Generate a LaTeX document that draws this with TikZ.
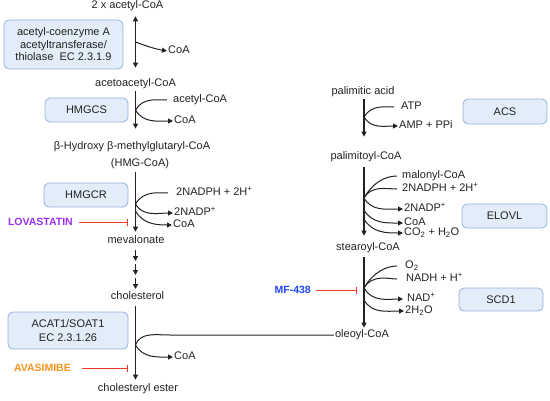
\documentclass[tikz,border=0pt]{standalone}
\usepackage{fontspec}
\setmainfont{Liberation Sans}
\usetikzlibrary{arrows.meta}
\definecolor{boxfill}{HTML}{E3EDF9}
\definecolor{boxline}{HTML}{93B2DE}
\definecolor{inhib}{HTML}{EE3B24}
\definecolor{lova}{HTML}{9A2EF0}
\definecolor{avas}{HTML}{F7931E}
\definecolor{mfblue}{HTML}{1F45F5}
\definecolor{ink}{HTML}{222222}
\begin{document}
\begin{tikzpicture}[x=1pt,y=-1pt,>={Triangle[length=5pt,width=5pt]},
  cpd/.style={font=\fontsize{11}{12.5}\selectfont, text=ink, inner sep=1pt, text height=8pt, text depth=2.3pt},
  enz/.style={font=\fontsize{11}{12.5}\selectfont, text=ink, draw=boxline, fill=boxfill, rounded corners=5pt, line width=0.8pt, inner sep=1pt},
  drug/.style={font=\bfseries\fontsize{10.5}{12}\selectfont, inner sep=1pt},
  rxn/.style={->, draw=ink, line width=1.2pt},
  side/.style={draw=ink, line width=1pt},
  inh/.style={draw=inhib, line width=1pt, -{Bar[width=7pt]}}]
\useasboundingbox (0,0) rectangle (550,400);
\coordinate (axL) at (135.5,0);
\coordinate (axR) at (364,0);
\node[enz, minimum width=119pt, minimum height=49pt, align=center] (thl) at (63.5,44.5) {acetyl-coenzyme A\\acetyltransferase/\\thiolase~ EC 2.3.1.9};
\node[enz, minimum width=83pt, minimum height=24pt] (hmgcs) at (86.5,110) {HMGCS};
\node[enz, minimum width=84pt, minimum height=24pt] (hmgcr) at (86,195) {HMGCR};
\node[enz, minimum width=120pt, minimum height=37pt, align=center] (acat) at (68,330.5) {ACAT1/SOAT1\\[1.5pt]EC 2.3.1.26};
\node[enz, minimum width=84pt, minimum height=25pt] (acs) at (505,111.5) {ACS};
\node[enz, minimum width=85pt, minimum height=24pt] (elovl) at (504.5,216) {ELOVL};
\node[enz, minimum width=84pt, minimum height=23pt] (scd) at (501,299.5) {SCD1};
\node[cpd] (c0) at (127.5,6) {2 x acetyl-CoA};
\node[cpd] (c1) at (135.5,84) {acetoacetyl-CoA};
\node[cpd] (c2) at (132,147) {β-Hydroxy β-methylglutaryl-CoA};
\node[cpd] (c2b) at (140,164) {(HMG-CoA)};
\node[cpd] (c3) at (136,241) {mevalonate};
\node[cpd] (c4) at (137.5,297) {cholesterol};
\node[cpd] (c5) at (138,389) {cholesteryl ester};
\node[cpd] (f0) at (363,92) {palimitic acid};
\node[cpd] (f1) at (366,157) {palimitoyl-CoA};
\node[cpd] (f2) at (368,248) {stearoyl-CoA};
\node[cpd] (f3) at (362,335) {oleoyl-CoA};
\draw[rxn, <->, shorten <=4pt, shorten >=10pt] (c0.south -| axL) -- (c1.north -| axL);
\draw[rxn, shorten <=1pt, shorten >=12pt] (c1.south -| axL) -- (c2.north -| axL);
\draw[rxn, shorten <=2pt, shorten >=3pt] (c2b.south -| axL) -- (c3.north -| axL);
\foreach \i/\y in {1/250,2/264,3/278} {
  \coordinate (m\i) at (135.5,\y);
  \draw[rxn] (m\i) -- ++(0,11);
}
\draw[rxn, shorten <=3pt, shorten >=3pt] (c4.south -| axL) -- (c5.north -| axL);
\draw[rxn, shorten <=1pt, shorten >=14pt] (f0.south -| axR) -- (f1.north -| axR);
\draw[rxn, shorten <=4pt, shorten >=6pt] (f1.south -| axR) -- (f2.north -| axR);
\draw[rxn, shorten <=3pt, shorten >=1pt] (f2.south -| axR) -- (f3.north -| axR);
\coordinate (j0) at (135.5,42);
\coordinate (j1) at (135.5,110);
\coordinate (j2) at (135.5,204);
\coordinate (j2b) at (135.5,211);
\coordinate (j3) at (135.5,345);
\coordinate (j3h) at (170,335);
\coordinate (k1) at (364,117);
\coordinate (k2) at (364,198);
\coordinate (k2b) at (364,210);
\coordinate (k2c) at (364,219);
\coordinate (k3) at (364,288);
\coordinate (k3b) at (364,300);
\node[cpd, anchor=west] (p0) at (167,51) {CoA};
\node[cpd, anchor=west] (s1) at (172,100) {acetyl-CoA};
\node[cpd, anchor=west] (p1) at (173,121) {CoA};
\node[cpd, anchor=west] (s2) at (175,193) {2NADPH + 2H\textsuperscript{+}};
\node[cpd, anchor=west] (p2) at (173,213) {2NADP\textsuperscript{+}};
\node[cpd, anchor=west] (p2b) at (172,225) {CoA};
\node[cpd, anchor=west] (p3) at (173,357) {CoA};
\node[cpd, anchor=west] (s4) at (400,107) {ATP};
\node[cpd, anchor=west] (p4) at (398,126) {AMP + PPi};
\node[cpd, anchor=west] (s5) at (401,176) {malonyl-CoA};
\node[cpd, anchor=west] (s5b) at (401,189) {2NADPH + 2H\textsuperscript{+}};
\node[cpd, anchor=west] (p5) at (403,209) {2NADP\textsuperscript{+}};
\node[cpd, anchor=west] (p5b) at (403,223) {CoA};
\node[cpd, anchor=west] (p5c) at (403,233) {CO\textsubscript{2} + H\textsubscript{2}O};
\node[cpd, anchor=west] (s6) at (404,266) {O\textsubscript{2}};
\node[cpd, anchor=west] (s6b) at (405,279) {NADH + H\textsuperscript{+}};
\node[cpd, anchor=west] (p6) at (406,299) {NAD\textsuperscript{+}};
\node[cpd, anchor=west] (p6b) at (404,311) {2H\textsubscript{2}O};
\draw[side, ->] (j0) to[out=-20,in=170] (p0.west);
\draw[side, shorten <=5pt] (s1.west) to[out=180,in=60] (j1);
\draw[side, ->] (j1) to[out=-60,in=180] (p1.west);
\draw[side, shorten <=7pt] (s2.west) to[out=180,in=60] (j2);
\draw[side, ->] (j2) to[out=-60,in=180] (p2.west);
\draw[side, ->] (j2b) to[out=-60,in=180] (p2b.west);
\draw[side] (f3.west) -- (j3h) to[out=180,in=70] (j3);
\draw[side, ->] (j3) to[out=-60,in=180] (p3.west);
\draw[side, shorten <=6pt] (s4.west) to[out=180,in=60] (k1);
\draw[side, ->] (k1) to[out=-60,in=180] (p4.west);
\draw[side, shorten <=4pt] (s5.west) to[out=180,in=60] (k2);
\draw[side, shorten <=4pt] (s5b.west) to[out=180,in=60] (k2);
\draw[side, ->] (k2) to[out=-60,in=180] (p5.west);
\draw[side, ->] (k2b) to[out=-60,in=180] (p5b.west);
\draw[side, ->] (k2c) to[out=-60,in=180] (p5c.west);
\draw[side, shorten <=7pt] (s6.west) to[out=180,in=60] (k3);
\draw[side, shorten <=8pt] (s6b.west) to[out=180,in=60] (k3);
\draw[side, ->, shorten >=3pt] (k3) to[out=-60,in=180] (p6.west);
\draw[side, ->] (k3b) to[out=-60,in=180] (p6b.west);
\node[drug, text=lova, anchor=east] (d1) at (74,222) {LOVASTATIN};
\node[drug, text=avas, anchor=east] (d2) at (72,368) {AVASIMIBE};
\node[drug, text=mfblue, anchor=east] (d3) at (312,290) {MF-438};
\coordinate (t1) at (128,222);
\coordinate (t2) at (128,368);
\coordinate (t3) at (357,290);
\draw[inh, shorten <=5pt] (d1.east) -- (t1);
\draw[inh, shorten <=10pt] (d2.east) -- (t2);
\draw[inh, shorten <=4pt] (d3.east) -- (t3);
\end{tikzpicture}
\end{document}
